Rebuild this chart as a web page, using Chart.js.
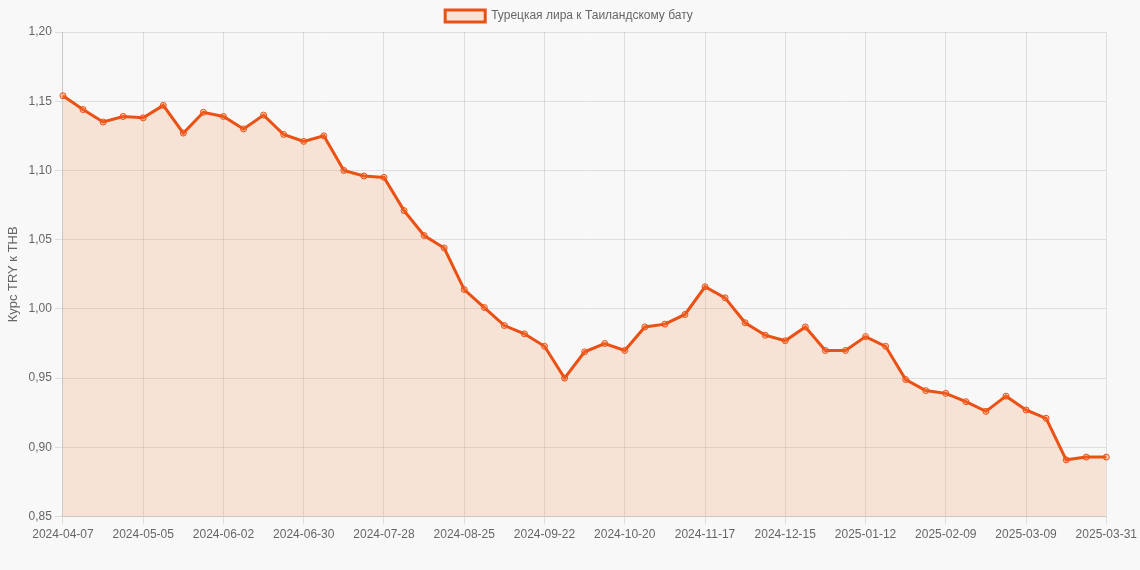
<!DOCTYPE html>
<html>
<head>
<meta charset="utf-8">
<script src="https://cdn.jsdelivr.net/npm/chart.js@4"></script>
<style>
  html, body { margin: 0; padding: 0; background: #f8f8f8; }
  #wrap { width: 1140px; height: 570px; }
</style>
</head>
<body>
<div id="wrap"><canvas id="chartCanvas"></canvas></div>
<script>
// даты (недели) и курс TRY -> THB
var dates = [
  '2024-04-07','2024-04-14','2024-04-21','2024-04-28','2024-05-05','2024-05-12','2024-05-19','2024-05-26',
  '2024-06-02','2024-06-09','2024-06-16','2024-06-23','2024-06-30','2024-07-07','2024-07-14','2024-07-21',
  '2024-07-28','2024-08-04','2024-08-11','2024-08-18','2024-08-25','2024-09-01','2024-09-08','2024-09-15',
  '2024-09-22','2024-09-29','2024-10-06','2024-10-13','2024-10-20','2024-10-27','2024-11-03','2024-11-10',
  '2024-11-17','2024-11-24','2024-12-01','2024-12-08','2024-12-15','2024-12-22','2024-12-29','2025-01-05',
  '2025-01-12','2025-01-19','2025-01-26','2025-02-02','2025-02-09','2025-02-16','2025-02-23','2025-03-02',
  '2025-03-09','2025-03-16','2025-03-23','2025-03-30','2025-03-31'
];
var rates = [
  1.154, 1.144, 1.135, 1.139, 1.138, 1.147, 1.127, 1.142,
  1.139, 1.130, 1.140, 1.126, 1.121, 1.125, 1.100, 1.096,
  1.095, 1.071, 1.053, 1.044, 1.014, 1.001, 0.988, 0.982,
  0.973, 0.950, 0.969, 0.975, 0.970, 0.987, 0.989, 0.996,
  1.016, 1.008, 0.990, 0.981, 0.977, 0.987, 0.970, 0.970,
  0.980, 0.973, 0.949, 0.941, 0.939, 0.933, 0.926, 0.937,
  0.927, 0.921, 0.891, 0.893, 0.893
];
var seriesName = 'Турецкая лира к Таиландскому бату';
var yTitle = 'Курс TRY к THB';

Chart.defaults.font.family = '"Liberation Sans", Arial, sans-serif';
Chart.defaults.font.size = 12;
Chart.defaults.color = '#666';

var ctx = document.getElementById('chartCanvas').getContext('2d');
var currentChart = new Chart(ctx, {
  type: 'line',
  data: {
    labels: dates,
    datasets: [{
      label: seriesName,
      data: rates,
      borderColor: 'rgb(235, 80, 20)',
      backgroundColor: 'rgba(245, 120, 50, 0.17)',
      borderWidth: 3,
      pointRadius: 3,
      pointBorderWidth: 1,
      pointBackgroundColor: 'rgba(245, 120, 50, 0.3)',
      pointBorderColor: 'rgb(235, 80, 20)',
      fill: true,
      tension: 0
    }]
  },
  options: {
    responsive: true,
    maintainAspectRatio: false,
    animation: false,
    layout: { padding: { left: 2, right: 4, top: 0, bottom: 25 } },
    plugins: {
      legend: {
        display: true,
        labels: { boxWidth: 40, boxHeight: 12, color: '#666', padding: 10 }
      },
      tooltip: { enabled: false }
    },
    scales: {
      x: {
        grid: { color: 'rgba(0,0,0,0.1)' },
        ticks: {
          autoSkip: false,
          maxRotation: 0,
          color: '#666',
          callback: function(value, index) {
            return index % 4 === 0 ? this.getLabelForValue(value) : null;
          }
        }
      },
      y: {
        min: 0.85,
        max: 1.20,
        grid: { color: 'rgba(0,0,0,0.1)' },
        ticks: {
          stepSize: 0.05,
          color: '#666',
          callback: function(v) { return v.toFixed(2).replace('.', ','); }
        },
        title: { display: true, text: yTitle, color: '#666', font: { size: 13 } }
      }
    }
  }
});
</script>
</body>
</html>
